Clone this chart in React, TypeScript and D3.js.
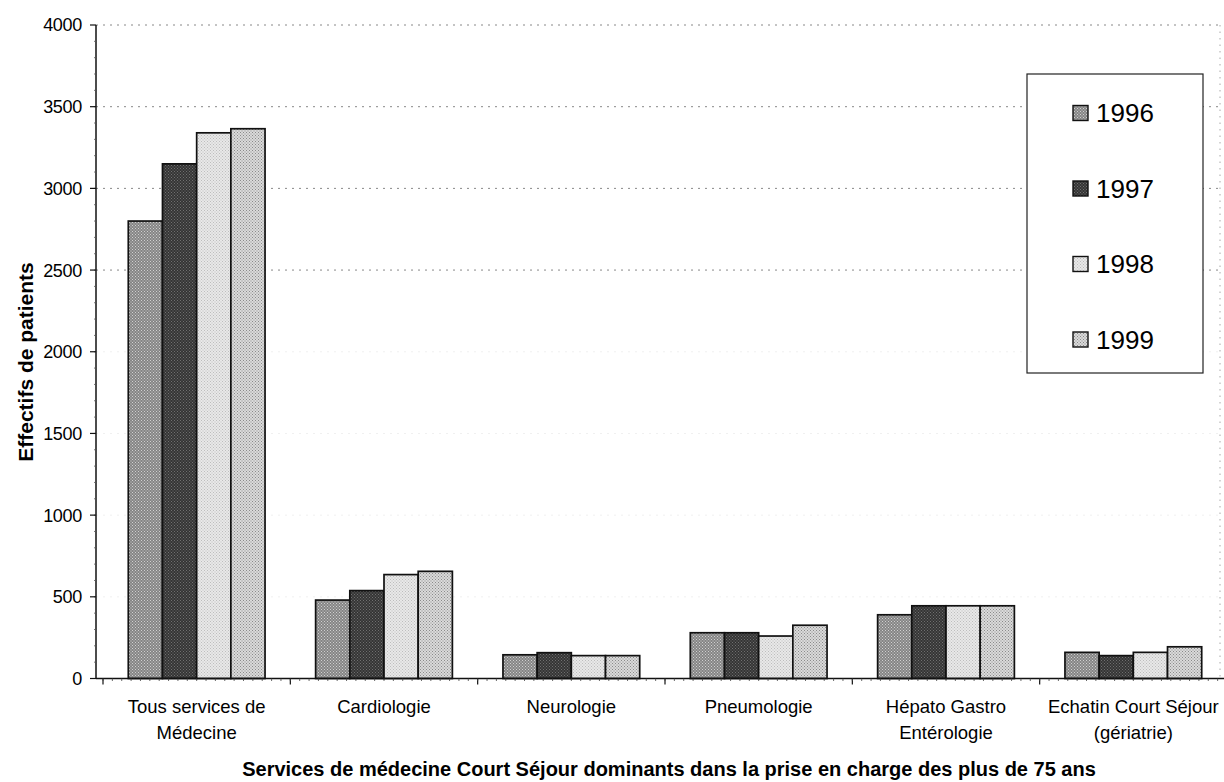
import React from "react";
import * as d3 from "d3";

const categories: string[][] = [
  ["Tous services de", "Médecine"],
  ["Cardiologie"],
  ["Neurologie"],
  ["Pneumologie"],
  ["Hépato Gastro", "Entérologie"],
  ["Echatin Court Séjour", "(gériatrie)"],
];
const seriesNames = ["1996", "1997", "1998", "1999"];
const v1996 = [2800, 480, 145, 280, 390, 160];
const v1997 = [3150, 538, 158, 280, 445, 140];
const v1998 = [3340, 636, 140, 260, 445, 160];
const v1999 = [3365, 656, 140, 326, 445, 194];
const seriesValues = [v1996, v1997, v1998, v1999];
const yTicks = [0, 500, 1000, 1500, 2000, 2500, 3000, 3500, 4000];

const fills = [
  { bg: "#858585", dot: "#d0d0d0" },
  { bg: "#353535", dot: "#707070" },
  { bg: "#e8e8e8", dot: "#bdbdbd" },
  { bg: "#dadada", dot: "#8a8a8a" },
];

export default function App() {
  const W = 1224, H = 782;
  const left = 96, right = 1220, top = 25, bottom = 678.5;
  const x = d3.scaleBand<number>().domain(d3.range(categories.length)).range([left + 7, right + 7]).paddingInner(0.27).paddingOuter(0.135);
  const step = x.step();
  const x1 = d3.scaleBand<number>().domain(d3.range(seriesNames.length)).range([0, x.bandwidth()]);
  const y = d3.scaleLinear().domain([0, 4000]).range([bottom, top]);
  const font = "'Liberation Sans', Arial, sans-serif";
  const minor = d3.range(0, 4000, 100);
  const x0 = x.range()[0];

  return (
    <svg width={W} height={H} style={{ position: "absolute", left: 0, top: 0, background: "#fff" }} fontFamily={font}>
      <defs>
        {fills.map((f, i) => (
          <pattern key={i} id={`p${i}`} width={3} height={3} patternUnits="userSpaceOnUse">
            <rect width={3} height={3} fill={f.bg} />
            <rect x={0} y={0} width={1} height={1} fill={f.dot} />
            <rect x={1.5} y={1.5} width={1} height={1} fill={f.dot} />
          </pattern>
        ))}
      </defs>
      {yTicks.filter((t) => t > 0).map((t) => (
        <line key={t} x1={left} x2={right} y1={y(t)} y2={y(t)} stroke={t >= 2500 ? "#888" : "#f0f0f0"} strokeWidth={1} strokeDasharray="2 5" />
      ))}
      <line x1={right} x2={right} y1={top} y2={bottom} stroke="#aaa" strokeDasharray="1.5 5" />
      {seriesValues.map((vals, s) =>
        vals.map((v, c) => (
          <rect key={`${s}-${c}`} x={(x(c) as number) + (x1(s) as number)} y={y(v)} width={x1.bandwidth()} height={bottom - y(v)}
            fill={`url(#p${s})`} stroke="#111" strokeWidth={1.7} />
        ))
      )}
      {/* axes */}
      <line x1={left} x2={left} y1={top} y2={bottom} stroke="#111" strokeWidth={1.5} />
      <line x1={left} x2={right + 4} y1={bottom} y2={bottom} stroke="#111" strokeWidth={1.5} />
      {minor.map((m) => (
        <line key={m} x1={left - 2} x2={left} y1={y(m)} y2={y(m)} stroke="#555" strokeWidth={0.8} />
      ))}
      {yTicks.map((t) => (
        <g key={t}>
          <line x1={left - 6} x2={left} y1={y(t)} y2={y(t)} stroke="#111" strokeWidth={1.2} />
          <text x={82} y={y(t)} dy="0.36em" textAnchor="end" fontSize={18} letterSpacing={-0.3}>{t}</text>
        </g>
      ))}
      {d3.range(categories.length).map((i) => (
        <line key={i} x1={x0 + i * step} x2={x0 + i * step} y1={bottom} y2={bottom + 6} stroke="#111" strokeWidth={1.2} />
      ))}
      {d3.range(0, categories.length * 20).map((i) => (
        <line key={`m${i}`} x1={x0 + (i * step) / 20} x2={x0 + (i * step) / 20} y1={bottom} y2={bottom + 2.5} stroke="#444" strokeWidth={0.8} />
      ))}
      {categories.map((lines, c) => {
        const cx = (x(c) as number) + x.bandwidth() / 2;
        return (
          <text key={c} x={cx} y={713} textAnchor="middle" fontSize={18.5} letterSpacing={0}>
            {lines.map((l, k) => (
              <tspan key={k} x={cx} dy={k === 0 ? 0 : 26}>{l}</tspan>
            ))}
          </text>
        );
      })}
      <text transform={`translate(33, 362) rotate(-90)`} textAnchor="middle" fontSize={21} fontWeight="bold">Effectifs de patients</text>
      <text x={669} y={776} textAnchor="middle" fontSize={20} fontWeight="bold">Services de médecine Court Séjour dominants dans la prise en charge des plus de 75 ans</text>
      {/* legend */}
      <rect x={1027} y={74} width={176} height={299} fill="#fff" stroke="#222" strokeWidth={1.2} />
      {seriesNames.map((n, i) => {
        const ly = 113 + i * 75.5;
        return (
          <g key={n}>
            <rect x={1073} y={ly - 7.5} width={15} height={15} fill={`url(#p${i})`} stroke="#111" strokeWidth={1.4} />
            <text x={1096} y={ly} dy="0.36em" fontSize={26}>{n}</text>
          </g>
        );
      })}
    </svg>
  );
}
